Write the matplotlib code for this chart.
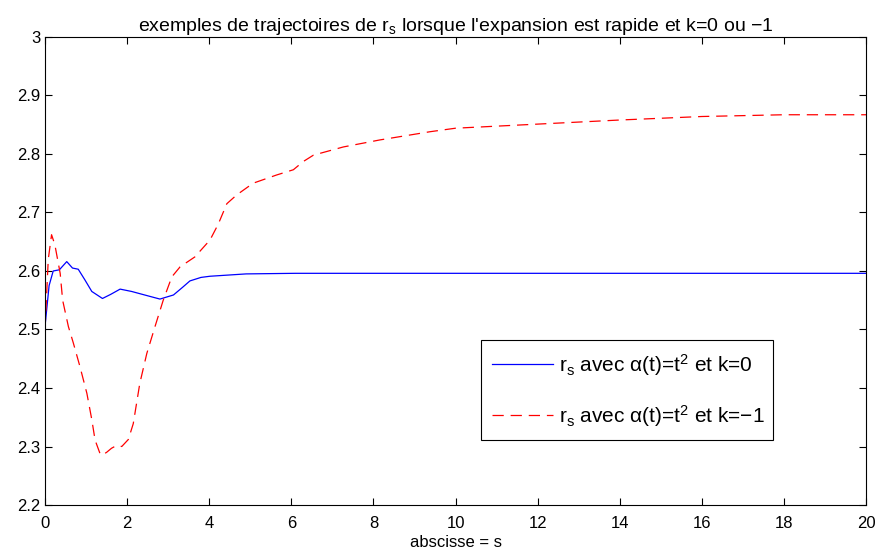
import numpy as np
import matplotlib
matplotlib.use("Agg")
import matplotlib.pyplot as plt

plt.rcParams['font.family'] = ['Liberation Sans', 'DejaVu Sans']
plt.rcParams['mathtext.fontset'] = 'custom'
plt.rcParams['mathtext.rm'] = 'Liberation Sans'
plt.rcParams['mathtext.it'] = 'Liberation Sans'

# k = 0 trajectory (blue)
x_k0 = [0, 0.1, 0.2, 0.35, 0.53, 0.67, 0.81, 0.97, 1.14, 1.4, 1.6, 1.83, 2.11, 2.48, 2.8,
        3.13, 3.35, 3.53, 3.8, 4.02, 4.9, 6.1, 8, 10, 12, 14, 16, 18, 20]
y_k0 = [2.505, 2.575, 2.6, 2.602, 2.616, 2.605, 2.603, 2.585, 2.565, 2.553, 2.56, 2.569, 2.565,
        2.558, 2.552, 2.559, 2.572, 2.583, 2.589, 2.591, 2.595, 2.596, 2.596, 2.596, 2.596,
        2.596, 2.596, 2.596, 2.596]

# k = -1 trajectory (red, dashed)
x_km1 = [0, 0.08, 0.16, 0.24, 0.37, 0.43, 0.57, 0.69, 0.85, 1.02, 1.14, 1.22, 1.34, 1.38,
         1.5, 1.62, 1.75, 1.87, 2.03, 2.15, 2.31, 2.48, 2.68, 2.88, 3.09, 3.29, 3.65, 4.02,
         4.22, 4.43, 4.67, 5.07, 5.64, 6.05, 6.29, 6.54, 7.27, 8.16, 9.38, 10, 12, 14, 16,
         18, 20]
y_km1 = [2.5, 2.62, 2.662, 2.645, 2.596, 2.55, 2.505, 2.477, 2.437, 2.391, 2.346, 2.311,
         2.288, 2.285, 2.29, 2.297, 2.302, 2.3, 2.312, 2.339, 2.408, 2.459, 2.505, 2.55,
         2.59, 2.607, 2.624, 2.653, 2.68, 2.715, 2.73, 2.75, 2.764, 2.773, 2.787, 2.798,
         2.812, 2.824, 2.838, 2.844, 2.851, 2.858, 2.864, 2.867, 2.867]

xticks = np.arange(0, 21, 2)
yticks = [2.2, 2.3, 2.4, 2.5, 2.6, 2.7, 2.8, 2.9, 3]
ytick_labels = ['2.2', '2.3', '2.4', '2.5', '2.6', '2.7', '2.8', '2.9', '3']

fig = plt.figure(figsize=(8.77, 5.52), dpi=100)
ax = fig.add_axes([0.0513, 0.0851, 0.9362, 0.848])

ax.plot(x_k0, y_k0, color='blue', lw=0.9,
        label=r'r$_\mathregular{s}$ avec $\alpha$(t)=t$^\mathregular{2}$ et k=0')
ax.plot(x_km1, y_km1, color='red', lw=0.9, dashes=(9, 5.5),
        label=r'r$_\mathregular{s}$ avec $\alpha$(t)=t$^\mathregular{2}$ et k=$-$1')

ax.set_xlim(0, 20)
ax.set_ylim(2.2, 3)
ax.set_xticks(xticks)
ax.set_yticks(yticks)
ax.set_yticklabels(ytick_labels)
ax.tick_params(direction='in', top=True, right=True, labelsize=12, length=5)
ax.tick_params(axis='x', pad=8)
for s in ax.spines.values():
    s.set_linewidth(0.8)

ax.set_xlabel('abscisse = s', fontsize=12, labelpad=3)
ax.set_title(r"exemples de trajectoires de r$_\mathregular{s}$ lorsque l'expansion est rapide et k=0 ou $-$1",
             fontsize=14, pad=4)

leg = ax.legend(loc='lower left', bbox_to_anchor=(0.531, 0.139, 0.356, 0.22), mode='expand',
                borderaxespad=0, fancybox=False, edgecolor='black', framealpha=1, fontsize=15,
                handlelength=2.9, handletextpad=0.3, borderpad=0.55, labelspacing=1.2)
leg.get_frame().set_linewidth(0.8)

fig.savefig('out.png', dpi=100)
